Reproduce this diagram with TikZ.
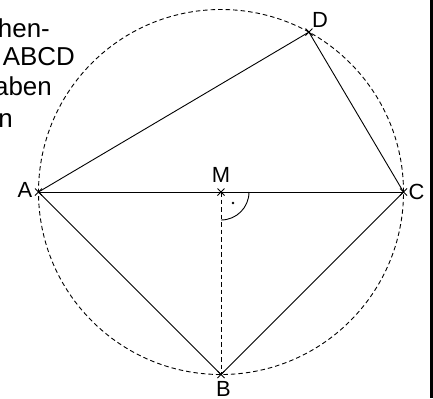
\documentclass[tikz,border=0pt]{standalone}
\usepackage{fontspec}
\setmainfont{Liberation Sans}
\usetikzlibrary{shapes.misc}
\tikzset{
  pt/.style={cross out,draw,minimum size=6bp,inner sep=0pt,line width=1bp},
  lbl/.style={font=\fontsize{22}{26}\selectfont,inner sep=0pt},
  txt/.style={font=\fontsize{26}{30}\selectfont,inner sep=0pt,anchor=base east},
  seg/.style={line width=0.9bp},
  dsh/.style={line width=0.9bp,dash pattern=on 4.5bp off 3bp}
}
\begin{document}
\begin{tikzpicture}[x=1bp,y=-1bp]
\useasboundingbox (0,0) rectangle (433,398);
\coordinate (M) at (221,192);
\coordinate (A) at (38.5,192);
\coordinate (C) at (403.5,192);
\coordinate (B) at (221,374.5);
\coordinate (D) at (308.9,32.1);
% circle
\draw[dsh] (M) circle[radius=182.5bp];
% quadrilateral and diagonal
\draw[seg] (A) -- (D) -- (C) -- (B) -- (A);
\draw[seg] (A) -- (C);
\draw[dsh] (M) -- (B);
% right angle mark
\draw[seg] ([xshift=28bp]M) arc[start angle=0,end angle=-90,radius=28bp];
\fill ([xshift=12bp,yshift=-11bp]M) circle[radius=1.4bp];
% point marks
\foreach \p in {A,B,C,D,M} \node[pt] (x\p) at (\p) {};
% labels
\node[lbl] (lA) at (25,189.5) {A};
\node[lbl] (lC) at (416.5,191.5) {C};
\node[lbl,anchor=base] (lM) at (221,182) {M};
\node[lbl] (lB) at (223.5,388.5) {B};
\node[lbl] (lD) at (320,19.5) {D};
% cut-off text
\node[txt] (t1) at (50,37) {hen-};
\node[txt] (t2) at (75,65) {ABCD};
\node[txt] (t3) at (52,95) {aben};
\node[txt] (t4) at (13,127) {n};
% right edge bar
\fill (429.5,0) rectangle (433,398);
\end{tikzpicture}
\end{document}
